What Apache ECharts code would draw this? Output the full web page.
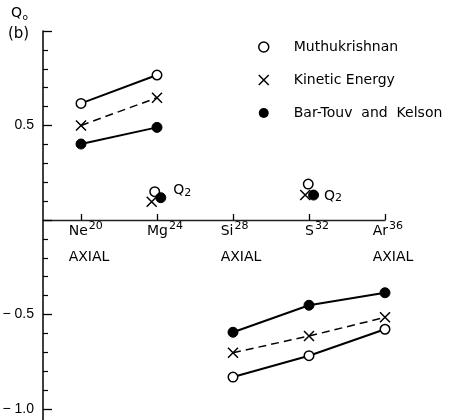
<!DOCTYPE html>
<html><head><meta charset="utf-8">
<script src="https://cdn.jsdelivr.net/npm/echarts@6/dist/echarts.min.js"></script>
<style>html,body{margin:0;padding:0;background:#fff}#c{width:466px;height:420px}</style>
</head><body><div id="c"></div>
<script>
// ---- data ----
const nuclei = ['Ne', 'Mg', 'Si', 'S', 'Ar'];
const massNumbers = ['20', '24', '28', '32', '36'];
const axialShape = [true, false, true, false, true];
const muthukrishnan = [0.617, 0.767, -0.831, -0.718, -0.578];
const kineticEnergy = [0.50, 0.647, -0.702, -0.614, -0.515];
const barTouvKelson = [0.402, 0.490, -0.594, -0.451, -0.385];
const connectedGroups = [[0, 1], [2, 3, 4]];
// Q2 values, drawn slightly beside Mg and S
const q2Muthukrishnan = [[0.97, 0.150], [2.99, 0.190]];
const q2KineticEnergy = [[0.93, 0.097], [2.95, 0.132]];
const q2BarTouvKelson = [[1.05, 0.118], [3.06, 0.132]];
const yTickLabels = { '0.5': '0.5', '-0.5': '\u2212 0.5', '-1': '\u2212 1.0' };
const legendNames = ['Muthukrishnan', 'Kinetic Energy', 'Bar-Touv  and  Kelson'];

// ---- layout ----
const FONT = 'DejaVu Sans';
const Y_MIN = -1.5, Y_MAX = 1;
const GRID_TOP = 31, GRID_H = 472.5;
const zeroOffset = -GRID_H * (0 - Y_MIN) / (Y_MAX - Y_MIN);

// ---- styles ----
const crossPath = 'path://M0,0L10,10M10,0L0,10';
const styles = [
  { symbol: 'circle', symbolSize: 9.5, itemStyle: { color: '#fff', borderColor: '#000', borderWidth: 1.5, opacity: 1 }, lineStyle: { color: '#000', width: 2, type: 'solid' } },
  { symbol: crossPath, symbolSize: 10, itemStyle: { color: '#000', borderColor: '#000', borderWidth: 1.5, opacity: 1 }, lineStyle: { color: '#000', width: 1.5, type: [8, 5] } },
  { symbol: 'circle', symbolSize: 10, itemStyle: { color: '#000', borderColor: '#000', borderWidth: 1, opacity: 1 }, lineStyle: { color: '#000', width: 2, type: 'solid' } }
];
const mainValues = [muthukrishnan, kineticEnergy, barTouvKelson];
const q2Values = [q2Muthukrishnan, q2KineticEnergy, q2BarTouvKelson];
const q2LabelOffsets = [[0, -7], [-2, 1]];

const series = [];
mainValues.forEach((vals, s) => {
  connectedGroups.forEach(group => {
    series.push(Object.assign({
      type: 'line', name: legendNames[s], z: 3,
      data: group.map(i => [i, vals[i]]),
      showAllSymbol: true, animation: false
    }, styles[s]));
  });
  const q2 = {
    type: 'scatter', name: legendNames[s], z: 4, animation: false,
    symbol: styles[s].symbol, symbolSize: styles[s].symbolSize, itemStyle: styles[s].itemStyle,
    data: q2Values[s].map((p, k) => s === 2 ? { value: p, label: { offset: q2LabelOffsets[k] } } : { value: p })
  };
  if (s === 2) {
    q2.label = {
      show: true, position: 'right', distance: 7, formatter: '{q|Q}{s|2}', opacity: 1,
      rich: {
        q: { fontFamily: FONT, fontSize: 14, lineHeight: 17, color: '#000' },
        s: { fontFamily: FONT, fontSize: 11, lineHeight: 12, padding: [5, 0, 0, 0], color: '#000' }
      }
    };
  }
  series.push(q2);
});

const chart = echarts.init(document.getElementById('c'), null, { renderer: 'canvas' });
chart.setOption({
  animation: false,
  backgroundColor: '#fff',
  grid: { left: 43, top: GRID_TOP, width: 342, height: GRID_H, containLabel: false, outerBoundsMode: 'none' },
  xAxis: {
    type: 'value', min: -0.5, max: 4, position: 'bottom', offset: zeroOffset,
    axisLine: { show: true, onZero: false, lineStyle: { color: '#222', width: 1.3 } },
    axisTick: { show: true, inside: true, length: 6, customValues: [0, 1, 2, 3, 4], lineStyle: { color: '#000', width: 1.3 } },
    splitLine: { show: false },
    axisLabel: {
      show: true, customValues: [0, 1, 2, 3, 4], margin: 4.5, hideOverlap: false,
      align: 'center', padding: [0, 0, 0, 16],
      formatter: v => {
        const i = Math.round(v);
        let s = '{n|' + nuclei[i] + '}{s|' + massNumbers[i] + '}';
        if (axialShape[i]) s += '\n{a|AXIAL}';
        return s;
      },
      rich: {
        n: { fontFamily: FONT, fontSize: 14, lineHeight: 14, color: '#000', align: 'left' },
        s: { fontFamily: FONT, fontSize: 11, lineHeight: 11, padding: [0, 0, 10, 1], color: '#000', align: 'left' },
        a: { fontFamily: FONT, fontSize: 14, lineHeight: 37, color: '#000', align: 'left' }
      }
    }
  },
  yAxis: {
    type: 'value', min: Y_MIN, max: Y_MAX, interval: 0.5,
    axisLine: { show: true, onZero: false, lineStyle: { color: '#000', width: 1.5 } },
    axisTick: { show: true, inside: true, length: 9, lineStyle: { color: '#000', width: 1.3 } },
    minorTick: { show: true, splitNumber: 5, length: 5, lineStyle: { color: '#000', width: 1.2 } },
    splitLine: { show: false },
    axisLabel: {
      margin: 9, fontFamily: 'Liberation Sans', fontSize: 14, color: '#000', hideOverlap: false,
      formatter: v => { const k = String(Math.round(v * 10) / 10); return yTickLabels[k] || ''; }
    }
  },
  legend: {
    data: [
      { name: legendNames[0], icon: 'circle', itemStyle: { color: '#fff', borderColor: '#000', borderWidth: 1.5 } },
      { name: legendNames[1], icon: crossPath, itemStyle: { color: '#000', borderColor: '#000', borderWidth: 1.5 } },
      { name: legendNames[2], icon: 'circle', itemStyle: { color: '#000', borderColor: '#000', borderWidth: 0 } }
    ],
    orient: 'vertical', left: 253, top: 35, itemWidth: 50, itemHeight: 10, itemGap: 19,
    symbolKeepAspect: true, selectedMode: false,
    textStyle: { fontFamily: FONT, fontSize: 14, lineHeight: 14, color: '#000' }
  },
  graphic: [
    { type: 'text', x: 11, y: 13, style: { text: 'Q', font: '14px "DejaVu Sans"', fill: '#000', verticalAlign: 'middle' } },
    { type: 'text', x: 22.5, y: 18, style: { text: 'o', font: '9px "DejaVu Sans"', fill: '#000', verticalAlign: 'middle' } },
    { type: 'text', x: 8, y: 34, style: { text: '(b)', font: '15px "DejaVu Sans"', fill: '#000', verticalAlign: 'middle' } }
  ],
  series: series
});
</script></body></html>
